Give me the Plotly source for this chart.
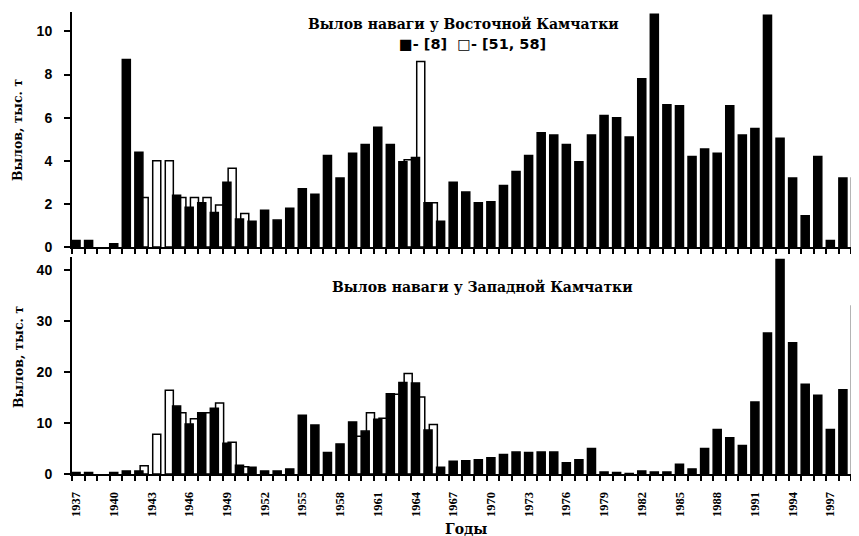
import plotly.graph_objects as go

years = list(range(1937, 2000))

east_black = [0.3, 0.3, None, 0.15, 8.7, 4.4, None, None, 2.4, 1.85,
              2.05, 1.6, 3.0, 1.3, 1.2, 1.7, 1.25, 1.8, 2.7, 2.45,
              4.25, 3.2, 4.35, 4.75, 5.55, 4.75, 3.95, 4.15, 2.05, 1.2,
              3.0, 2.55, 2.05, 2.1, 2.85, 3.5, 4.25, 5.3, 5.2, 4.75,
              3.95, 5.2, 6.1, 6.0, 5.1, 7.8, 10.8, 6.6, 6.55, 4.2,
              4.55, 4.35, 6.55, 5.2, 5.5, 10.75, 5.05, 3.2, 1.45, 4.2,
              0.3, 3.2, 3.2]

east_white_years = [1942, 1943, 1944, 1945, 1946, 1947, 1948, 1949, 1950, 1963, 1964, 1965]
east_white = [2.3, 4.0, 4.0, 2.3, 2.3, 2.3, 1.95, 3.65, 1.55, 4.05, 8.6, 2.05]

west_black = [0.3, 0.3, None, 0.3, 0.6, 0.6, None, None, 13.3, 9.8,
              12.0, 12.9, 6.0, 1.7, 1.3, 0.6, 0.6, 1.0, 11.5, 9.6,
              4.2, 5.9, 10.2, 8.4, 10.7, 15.7, 17.9, 17.8, 8.6, 1.3,
              2.5, 2.6, 2.8, 3.2, 3.8, 4.3, 4.2, 4.3, 4.3, 2.2,
              2.8, 5.0, 0.4, 0.3, 0.1, 0.6, 0.4, 0.4, 1.9, 1.0,
              5.0, 8.7, 7.1, 5.6, 14.1, 27.6, 42.0, 25.7, 17.6, 15.4,
              8.7, 16.5, 32.9]

west_white_years = [1942, 1943, 1944, 1945, 1946, 1947, 1948, 1949, 1950,
                    1959, 1960, 1961, 1962, 1963, 1964, 1965]
west_white = [1.6, 7.8, 16.4, 12.0, 10.8, 12.0, 13.9, 6.2, 1.4,
              7.4, 12.0, 10.9, 15.6, 19.7, 15.1, 9.7]

label_years = list(range(1937, 1998, 3))

title_east = "Вылов наваги у Восточной Камчатки"
title_west = "Вылов наваги у Западной Камчатки"
legend_text = "■- [8]  □- [51, 58]"
y_title = "Вылов, тыс. т"
x_title = "Годы"

boundaries = [y - 0.5 for y in years] + [years[-1] + 0.5]

fig = go.Figure()

line = dict(color="black", width=1.5)
# white series (drawn behind)
fig.add_trace(go.Bar(x=east_white_years, y=east_white, offset=-0.08, width=0.64,
                     marker=dict(color="white", line=line), xaxis="x", yaxis="y",
                     showlegend=False))
fig.add_trace(go.Bar(x=years, y=east_black, offset=-0.5, width=0.64,
                     marker=dict(color="black", line=line), xaxis="x", yaxis="y",
                     showlegend=False))
fig.add_trace(go.Bar(x=west_white_years, y=west_white, offset=-0.08, width=0.64,
                     marker=dict(color="white", line=line), xaxis="x2", yaxis="y2",
                     showlegend=False))
fig.add_trace(go.Bar(x=years, y=west_black, offset=-0.5, width=0.64,
                     marker=dict(color="black", line=line), xaxis="x2", yaxis="y2",
                     showlegend=False))

xr = [1936.5, 1999.1]
minor = dict(tickmode="array", tickvals=boundaries, ticks="outside", ticklen=5,
             tickwidth=1.5, tickcolor="black", showgrid=False)

ytickfont = dict(family="Liberation Sans", size=14, color="black", weight="bold")

# the page body adds an 8px offset, so the figure is shifted up/left by 8px
fig.update_layout(
    template="none",
    width=851, height=528,
    margin=dict(l=64, r=0, t=4, b=62, autoexpand=False),
    paper_bgcolor="white", plot_bgcolor="white",
    barmode="overlay",
    xaxis=dict(domain=[0, 1], range=xr, anchor="y", showline=True, linecolor="black",
               linewidth=2, showgrid=False, zeroline=False, showticklabels=False,
               tickmode="array", tickvals=[], ticks="", minor=minor, automargin=False),
    yaxis=dict(domain=[0.4913, 1], range=[0, 10.9], anchor="x", showline=True,
               linecolor="black", linewidth=2, showgrid=False, zeroline=False,
               tickmode="array", tickvals=[0, 2, 4, 6, 8, 10], ticks="outside",
               ticklen=6, tickwidth=1.5, tickcolor="black", tickfont=ytickfont,
               ticklabelstandoff=9, automargin=False),
    xaxis2=dict(domain=[0, 1], range=xr, anchor="y2", showline=True, linecolor="black",
                linewidth=2, showgrid=False, zeroline=False,
                tickmode="array", tickvals=[y - 0.18 for y in label_years],
                ticktext=[str(y) for y in label_years], tickangle=-90, ticks="",
                ticklabelstandoff=11, automargin=False,
                tickfont=dict(family="Liberation Serif", size=12.5, color="black", weight="bold"),
                minor=minor),
    yaxis2=dict(domain=[0, 0.4697], range=[0, 42.5], anchor="x2", showline=True,
                linecolor="black", linewidth=2, showgrid=False, zeroline=False,
                tickmode="array", tickvals=[0, 10, 20, 30, 40], ticks="outside",
                ticklen=6, tickwidth=1.5, tickcolor="black", tickfont=ytickfont,
                ticklabelstandoff=9, automargin=False),
)

tfont = dict(family="DejaVu Serif", size=14, color="black", weight="bold")
afont = dict(family="DejaVu Serif", size=12.5, color="black", weight="bold")
ann = [
    dict(text=title_east, x=0.497, y=0.974, font=tfont),
    dict(text=legend_text, x=0.5095, y=0.931,
         font=dict(family="DejaVu Sans", size=14.5, color="black", weight="bold")),
    dict(text=title_west, x=0.522, y=0.4054, font=tfont),
    dict(text=y_title, x=-0.0686, y=0.7446, font=afont, textangle=-90),
    dict(text=y_title, x=-0.0686, y=0.2532, font=afont, textangle=-90),
    dict(text=x_title, x=0.5006, y=-0.119, font=dict(family="DejaVu Serif", size=14,
                                                      color="black", weight="bold")),
]
for a in ann:
    fig.add_annotation(xref="paper", yref="paper", showarrow=False,
                       xanchor="center", yanchor="middle", **a)

fig.write_html("out.html")
